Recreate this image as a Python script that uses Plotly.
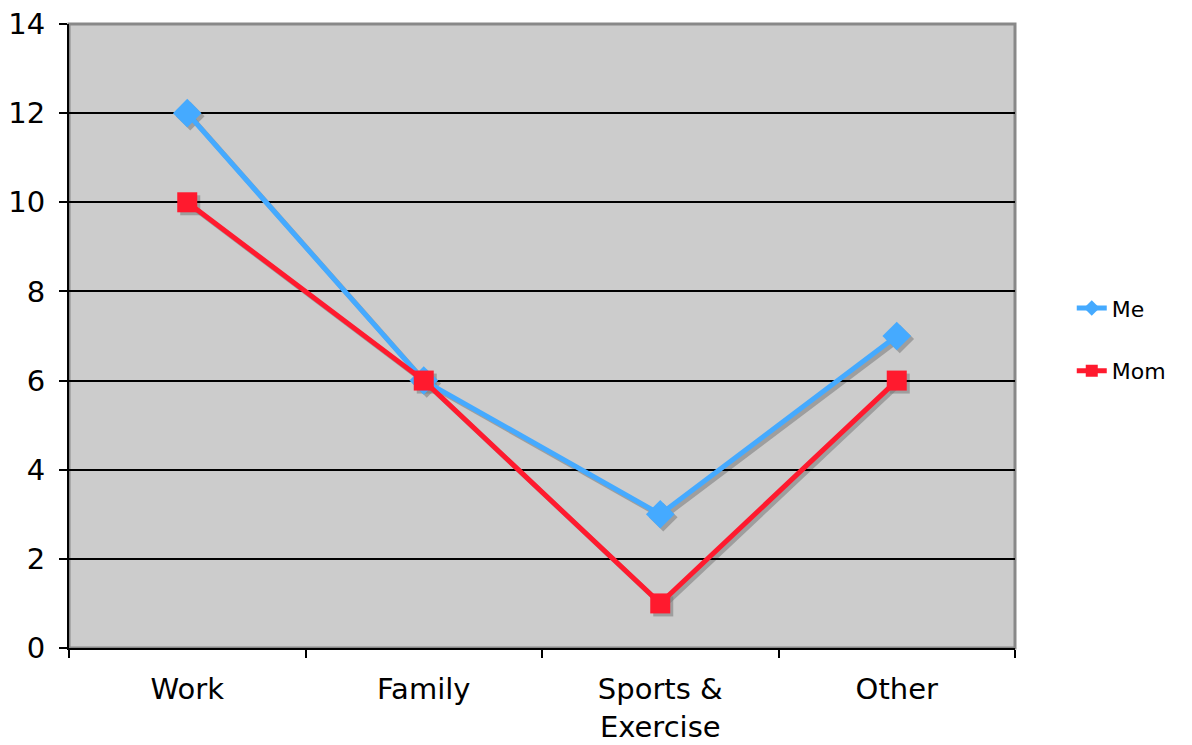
import plotly.graph_objects as go

categories = ["Work", "Family", "Sports &<br>Exercise", "Other"]
me_values = [12, 6, 3, 7]
mom_values = [10, 6, 1, 6]
y_ticks = [0, 2, 4, 6, 8, 10, 12, 14]

W, H = 1192, 745
L, R, T, B = 69, 177, 24, 97
pw, ph = W - L - R, H - T - B
OFF = 3  # shadow offset in px
sx = OFF * 4 / pw
sy = OFF * 14 / ph

BLUE = "#45aaff"
RED = "#ff1a2e"
SHADOW = "rgba(120,120,120,0.55)"
FONT = "DejaVu Sans"

fig = go.Figure()

# shadows (offset axes)
for vals, sym, sz in [(me_values, "diamond", 22), (mom_values, "square", 20)]:
    fig.add_trace(go.Scatter(x=categories, y=vals, mode="lines+markers",
                             line=dict(color=SHADOW, width=5),
                             marker=dict(symbol=sym, size=sz, color=SHADOW),
                             showlegend=False, hoverinfo="skip",
                             xaxis="x", yaxis="y"))

fig.add_trace(go.Scatter(x=categories, y=me_values, name="Me", mode="lines+markers",
                         legendgroup="me",
                         line=dict(color=BLUE, width=5),
                         marker=dict(symbol="diamond", size=22, color=BLUE),
                         xaxis="x2", yaxis="y2"))
fig.add_trace(go.Scatter(x=categories, y=mom_values, name="Mom", mode="lines+markers",
                         legendgroup="mom",
                         line=dict(color=RED, width=5),
                         marker=dict(symbol="square", size=20, color=RED),
                         xaxis="x2", yaxis="y2"))

hidden = dict(visible=False, showgrid=False, zeroline=False)
fig.update_layout(
    width=W, height=H,
    margin=dict(l=L, r=R, t=T, b=B, autoexpand=False),
    paper_bgcolor="white",
    plot_bgcolor="rgba(0,0,0,0)",
    font=dict(family=FONT, color="black"),
    xaxis=dict(hidden, domain=[0, 1], range=[-0.5 - sx, 3.5 - sx], type="category",
               categoryorder="array", categoryarray=categories),
    yaxis=dict(hidden, domain=[0, 1], range=[sy, 14 + sy]),
    xaxis2=dict(domain=[0, 1], anchor="y2", range=[-0.5, 3.5], type="category",
                categoryorder="array", categoryarray=categories,
                showline=True, linecolor="black", linewidth=2,
                ticks="outside", ticklen=8, tickwidth=2, tickcolor="black",
                tickson="boundaries", showgrid=False, zeroline=False,
                automargin=False, ticklabelstandoff=14,
                tickfont=dict(size=29, family=FONT, color="black")),
    yaxis2=dict(domain=[0, 1], anchor="x2", range=[0, 14],
                tickvals=y_ticks, ticktext=[str(v) for v in y_ticks],
                showline=True, linecolor="black", linewidth=2,
                ticks="outside", ticklen=8, tickwidth=2, tickcolor="black",
                showgrid=True, gridcolor="black", gridwidth=2, zeroline=False,
                automargin=False, ticklabelstandoff=8,
                tickfont=dict(size=29, family=FONT, color="black")),
    legend=dict(x=1.06, y=0.494, xanchor="left", yanchor="middle",
                font=dict(size=22, family=FONT, color="black"),
                traceorder="grouped", tracegroupgap=31, itemsizing="constant",
                bgcolor="rgba(0,0,0,0)"),
    shapes=[dict(type="rect", xref="paper", yref="paper", x0=0, x1=1, y0=0, y1=1,
                 fillcolor="#cccccc", line=dict(color="#888888", width=3),
                 layer="below")],
    showlegend=True,
)

fig.write_html("out.html")
